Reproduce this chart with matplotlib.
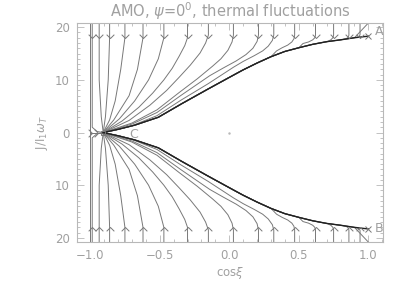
import matplotlib
matplotlib.use("Agg")
import matplotlib.pyplot as plt
from matplotlib.path import Path
from matplotlib.ticker import MultipleLocator, FuncFormatter

# separatrix from A (x=1) down to C
sep_x = [1.0, 0.9, 0.8, 0.7, 0.6, 0.5, 0.4, 0.3, 0.2, 0.1, 0.03, -0.15, -0.34, -0.51, -0.68, -0.8, -0.906]
sep_y = [18.3, 18.0, 17.6, 17.25, 16.75, 16.1, 15.4, 14.4, 13.2, 11.9, 10.9, 8.3, 5.5, 2.9, 1.4, 0.6, 0.0]

# upper half trajectories (lower half is the mirror image)
curve_x = [
    [-1.0, -1.0, -0.906],
    [-0.985, -0.985, -0.95, -0.906],
    [-0.935, -0.935, -0.92, -0.906],
    [-0.86, -0.86, -0.87, -0.89, -0.906],
    [-0.75, -0.75, -0.78, -0.82, -0.86, -0.906],
    [-0.62, -0.62, -0.66, -0.72, -0.83, -0.906],
    [-0.47, -0.47, -0.51, -0.58, -0.68, -0.79, -0.906],
    [-0.30, -0.30, -0.32, -0.36, -0.41, -0.47, -0.55, -0.65, -0.77, -0.906],
    [-0.15, -0.15, -0.17, -0.21, -0.28, -0.36, -0.45, -0.57, -0.72, -0.906],
    [0.03, 0.03, 0.02, -0.01, -0.06, -0.12, -0.23, -0.36, -0.52, -0.7, -0.906],
    [0.21, 0.21, 0.20, 0.17, 0.12, 0.05, -0.04, -0.14, -0.35, -0.52, -0.7, -0.906],
    [0.32, 0.32, 0.31, 0.28, 0.24, 0.18, 0.1, 0.03, -0.15, -0.35, -0.52, -0.7, -0.906],
    [0.47, 0.47, 0.465, 0.45, 0.42, 0.38, 0.34],
    [0.62, 0.62, 0.615, 0.60, 0.57, 0.53],
    [0.75, 0.75, 0.745, 0.73, 0.71],
    [0.86, 0.86, 0.855, 0.84, 0.81],
    [0.94, 0.94, 0.935, 0.92, 0.905],
    [1.0],
]
curve_y = [
    [20.8, 0.0, 0.0],
    [20.8, 1.0, 0.2, 0.0],
    [20.8, 10.0, 3.0, 0.0],
    [20.8, 18.0, 10.0, 3.0, 0.0],
    [20.8, 18.0, 12.0, 6.0, 2.4, 0.0],
    [20.8, 18.0, 12.0, 7.0, 2.4, 0.0],
    [20.8, 18.0, 14.0, 10.0, 6.0, 2.6, 0.0],
    [20.8, 18.0, 16.5, 14.5, 12.2, 10.0, 7.5, 4.8, 2.2, 0.0],
    [20.8, 18.5, 17.0, 15.1, 12.8, 10.5, 8.0, 5.2, 2.3, 0.0],
    [20.8, 18.5, 17.2, 15.6, 14.0, 12.6, 10.2, 7.6, 4.3, 1.8, 0.0],
    [20.8, 18.5, 17.3, 16.0, 14.8, 13.6, 12.3, 10.8, 7.0, 3.8, 1.6, 0.0],
    [20.8, 18.5, 17.5, 16.4, 15.5, 14.6, 13.5, 12.4, 9.3, 6.1, 3.2, 1.3, 0.0],
    [20.8, 18.5, 17.8, 17.2, 16.6, 16.1, 15.5],
    [20.8, 18.5, 18.0, 17.6, 17.2, 16.9],
    [20.8, 18.5, 18.0, 17.6, 17.35],
    [20.8, 18.5, 18.1, 17.8, 17.65],
    [20.8, 18.6, 18.25, 18.1, 18.03],
    [20.8],
]

# arrowheads on the trajectories
arrow_x = [-0.985, -0.935, -0.86, -0.75, -0.62, -0.47, -0.30, -0.15, 0.03,
           0.21, 0.32, 0.47, 0.62, 0.75, 0.86, 0.94]
arrow_y = 18.0
side_arrow_x = [-0.99, -0.945]

ytick_vals = [-20, -10, 0, 10, 20]

line_col = '#787878'
axis_col = '#b8b8b8'
text_col = '#a0a0a0'

fig = plt.figure(figsize=(4.07, 2.91), dpi=100)
ax = fig.add_axes([0.189, 0.168, 0.752, 0.753])

for xs, ys in zip(curve_x, curve_y):
    # trajectories that reach the separatrix follow it on to C
    if xs[-1] > -0.906:
        tail = [(sx, sy) for sx, sy in zip(sep_x, sep_y) if sx < xs[-1]]
        xs = xs + [t[0] for t in tail]
        ys = ys + [t[1] for t in tail]
    ax.plot(xs, ys, color=line_col, lw=0.7)
    ax.plot(xs, [-v for v in ys], color=line_col, lw=0.7)

ax.plot(sep_x, sep_y, color='#202020', lw=1.0)
ax.plot(sep_x, [-v for v in sep_y], color='#202020', lw=1.0)

v_down = Path([(-1, 1), (0, 0), (1, 1)], [Path.MOVETO, Path.LINETO, Path.LINETO])
v_up = Path([(-1, -1), (0, 0), (1, -1)], [Path.MOVETO, Path.LINETO, Path.LINETO])
v_right = Path([(-1, 1), (0, 0), (-1, -1)], [Path.MOVETO, Path.LINETO, Path.LINETO])
mk = dict(ls='none', ms=5.5, mfc='none', mec=line_col, mew=0.7)
ax.plot(arrow_x, [arrow_y] * len(arrow_x), marker=v_down, **mk)
ax.plot(arrow_x, [-arrow_y] * len(arrow_x), marker=v_up, **mk)
ax.plot(side_arrow_x, [0] * len(side_arrow_x), marker=v_right, **mk)

ax.plot([1.0, 1.0], [18.3, -18.3], ls='none', marker='x', ms=5, mec=line_col, mew=0.7)
ax.plot([-0.906], [0], ls='none', marker='s', ms=3.5, mfc='none', mec=line_col, mew=0.7)
ax.plot([0.0], [0.0], ls='none', marker='.', ms=1.5, color=axis_col)

ax.text(1.045, 19.2, 'A', color=text_col, fontsize=9, va='center', ha='left')
ax.text(1.045, -18.2, 'B', color=text_col, fontsize=9, va='center', ha='left')
ax.text(-0.72, -0.4, 'C', color=text_col, fontsize=9, va='center', ha='left')

ax.set_xlim(-1.095, 1.105)
ax.set_ylim(-20.8, 20.8)
ax.set_xticks([-1.0, -0.5, 0.0, 0.5, 1.0])
ax.set_yticks(ytick_vals)
ax.yaxis.set_major_formatter(FuncFormatter(lambda v, p: '%d' % abs(v)))
ax.xaxis.set_major_formatter(FuncFormatter(lambda v, p: ('%.1f' % v).replace('-', '\u2212')))
ax.xaxis.set_minor_locator(MultipleLocator(0.1))
ax.yaxis.set_minor_locator(MultipleLocator(1))
ax.tick_params(which='both', direction='in', top=True, right=True, color=axis_col,
               labelcolor=text_col, labelsize=8.5, width=0.6)
ax.tick_params(which='major', length=5, pad=5)
ax.tick_params(which='minor', length=2.5)
for s in ax.spines.values():
    s.set_color(axis_col)
    s.set_linewidth(0.8)

ax.set_title(r'AMO, $\psi$=0$^0$, thermal fluctuations', color=text_col, fontsize=10.5, pad=4)
ax.set_xlabel(r'cos$\xi$', color=text_col, fontsize=8.5, labelpad=2)
ax.set_ylabel(r'J/I$_1\omega_T$', color=text_col, fontsize=8.5, labelpad=4)

fig.savefig('out.png', dpi=100)
